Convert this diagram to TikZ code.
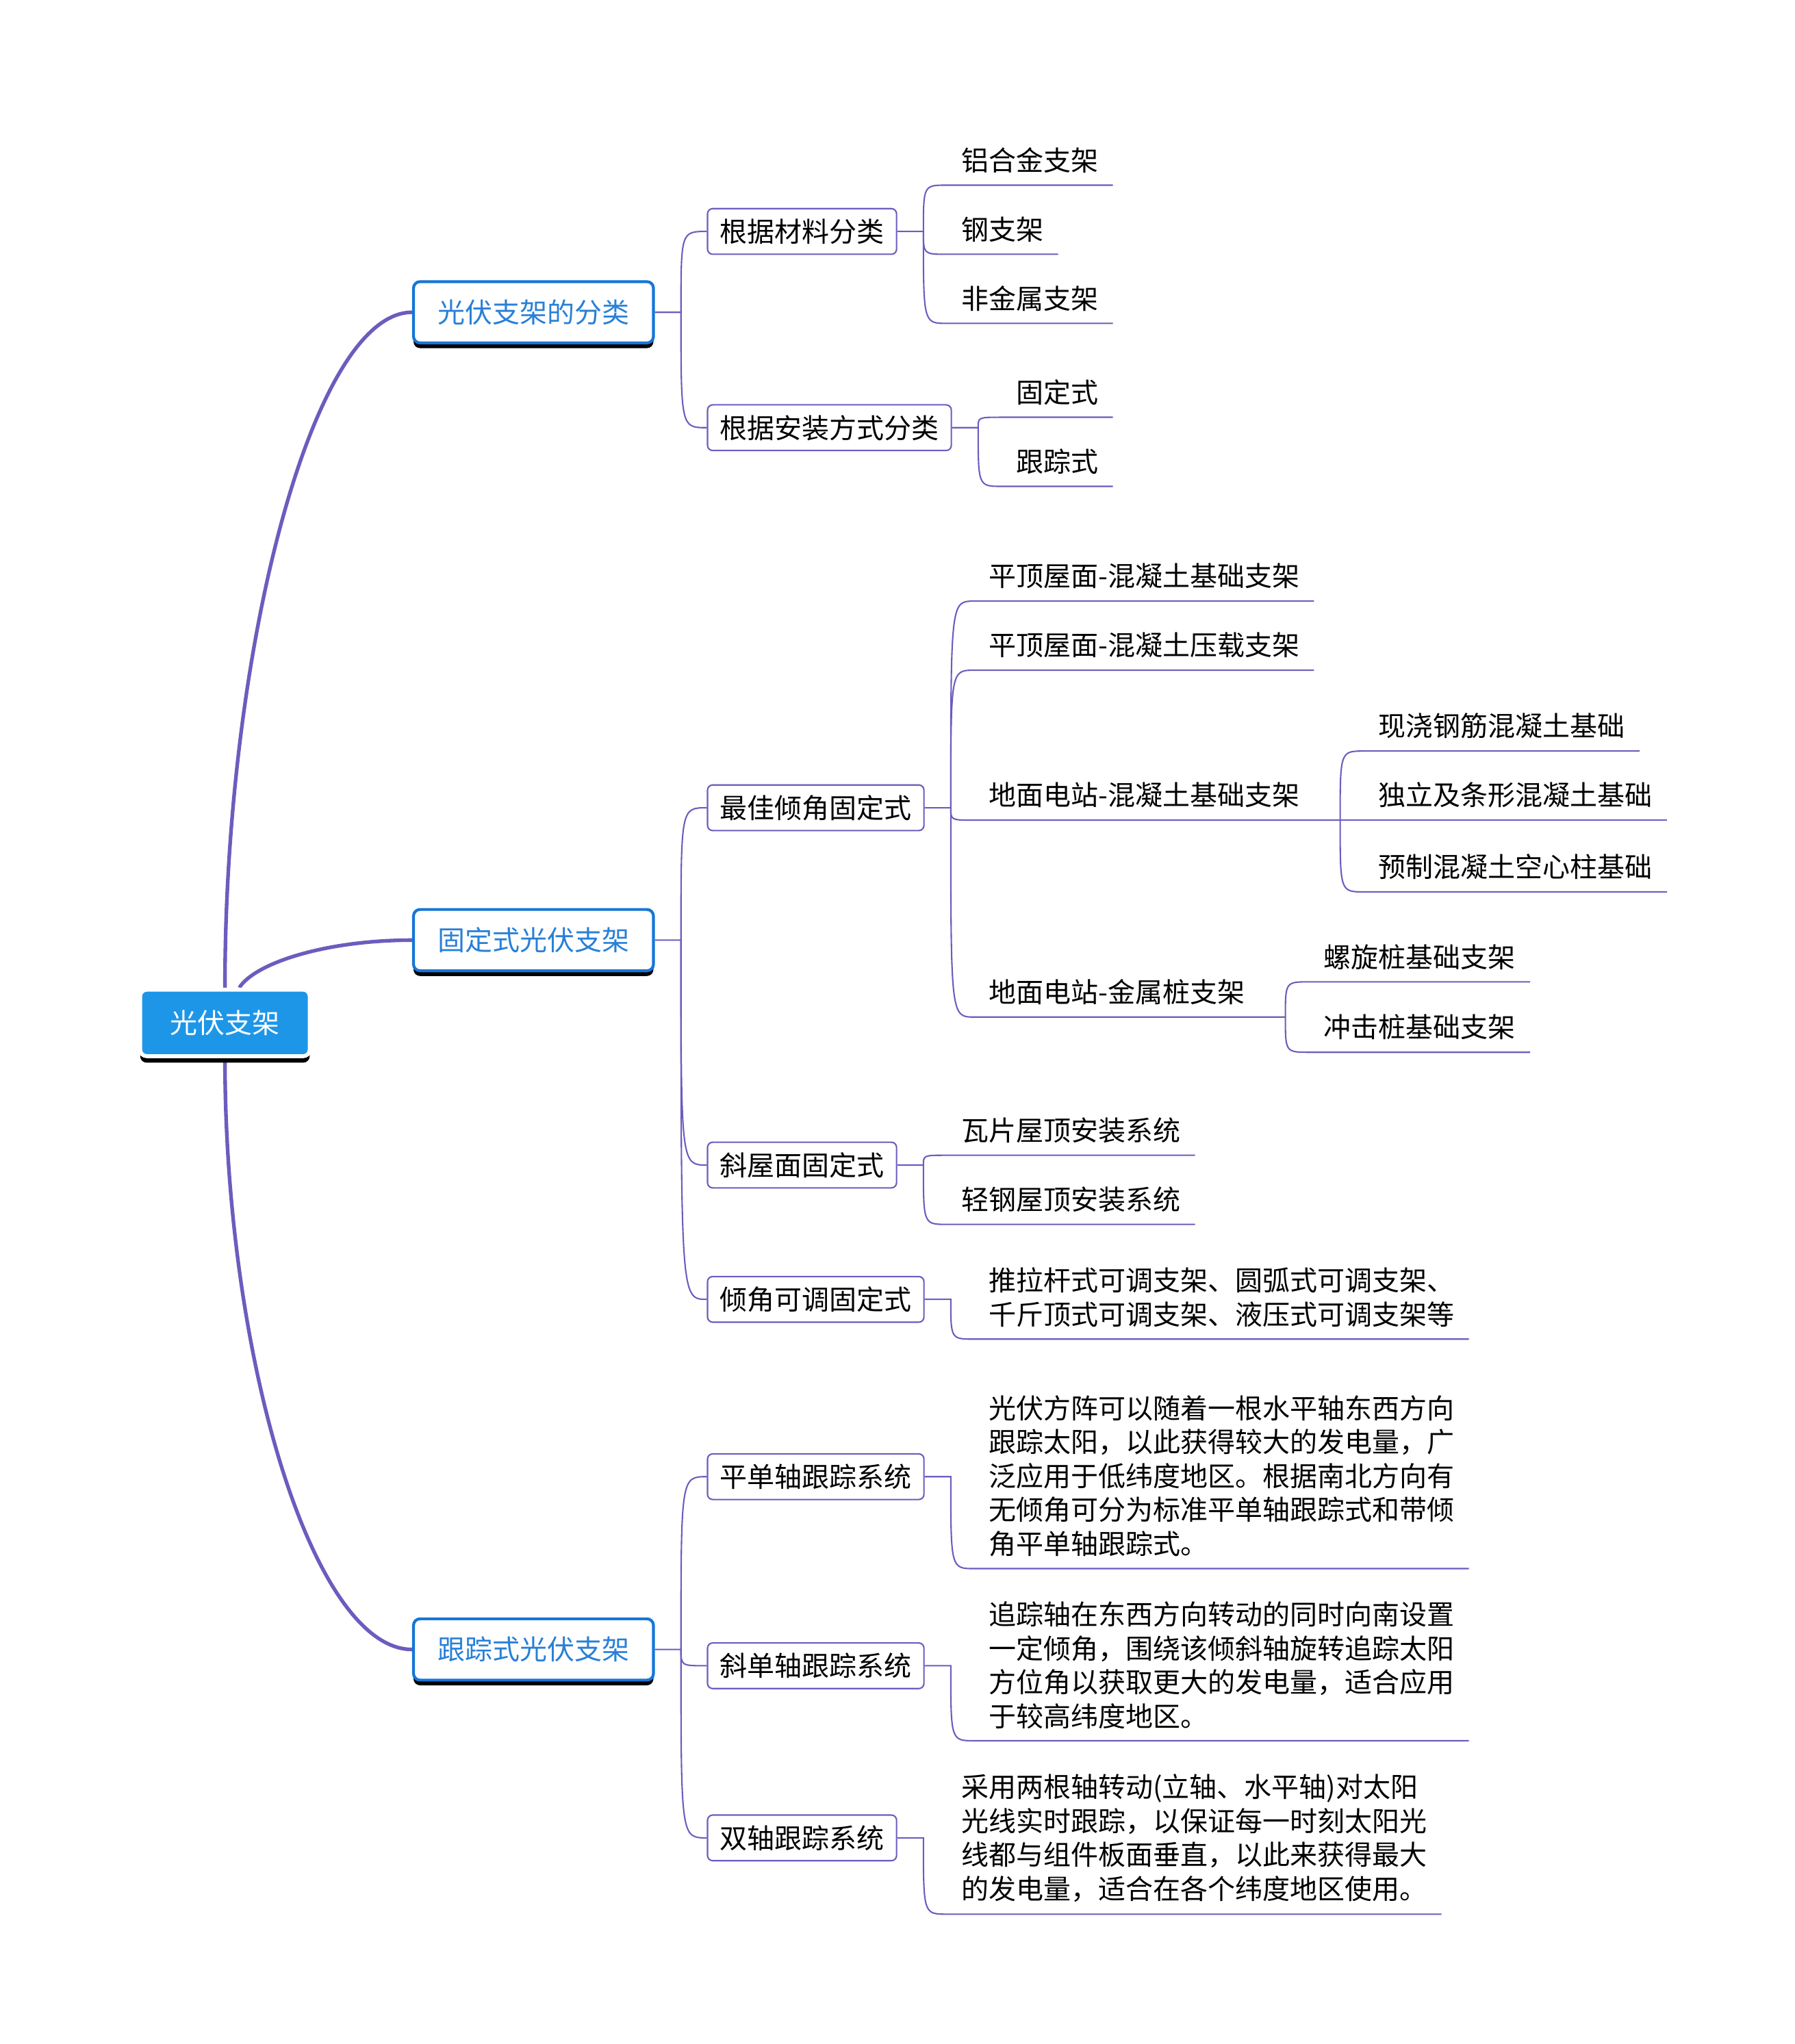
\documentclass[tikz,border=0pt]{standalone}
\usepackage{fontspec}
\setmainfont{Noto Sans CJK SC}
\usetikzlibrary{calc,backgrounds}
\definecolor{conn}{RGB}{108,92,190}
\definecolor{lvlone}{RGB}{22,118,214}
\definecolor{lvlonetext}{RGB}{40,128,215}
\definecolor{rootfill}{RGB}{30,150,232}
\begin{document}
\begin{tikzpicture}[x=1pt,y=-1pt,
  txt/.style={font=\fontsize{21pt}{26pt}\selectfont},
  conn/.style={draw=conn, line width=1.1pt},
  mainconn/.style={draw=conn, line width=2.8pt},
  rootbox/.style={txt, rectangle, rounded corners=5pt, fill=rootfill, draw=white, line width=3pt,
    text=white, minimum width=130pt, minimum height=51pt, text height=18pt, text depth=2pt,
    preaction={fill=black, transform canvas={yshift=-5pt}}},
  onebox/.style={txt, rectangle, rounded corners=5pt, fill=white, draw=lvlone, line width=2.2pt,
    text=lvlonetext, minimum width=184pt, minimum height=47pt, text height=18pt, text depth=2pt,
    anchor=west, preaction={fill=black, transform canvas={yshift=-4pt}}},
  twobox/.style={txt, rectangle, rounded corners=4pt, fill=white, draw=conn, line width=1.1pt,
    minimum height=35pt, inner xsep=9.5pt, text height=18pt, text depth=2pt, anchor=west},
  leaf/.style={txt, inner xsep=11pt, inner ysep=9pt, text height=18pt, text depth=2pt, anchor=south west},
  multi/.style={txt, inner xsep=11pt, inner ysep=9pt, align=left, anchor=south west},
]
\useasboundingbox (0,0) rectangle (1376,1567.6);

% root and first level
\node[rootbox] (root) at (172.5,784.5) {光伏支架};
\node[onebox] (c1) at (316,239.5) {光伏支架的分类};
\node[onebox] (c2) at (316,721) {固定式光伏支架};
\node[onebox] (c3) at (316,1265) {跟踪式光伏支架};

% second level
\node[twobox] (b11) at (542,177.5) {根据材料分类};
\node[twobox] (b12) at (542,328) {根据安装方式分类};
\node[twobox] (b21) at (542,619.5) {最佳倾角固定式};
\node[twobox] (b22) at (542,893.5) {斜屋面固定式};
\node[twobox] (b23) at (542,996.5) {倾角可调固定式};
\node[twobox] (b31) at (542,1132.5) {平单轴跟踪系统};
\node[twobox] (b32) at (542,1277.5) {斜单轴跟踪系统};
\node[twobox] (b33) at (542,1409.5) {双轴跟踪系统};

% leaves
\node[leaf] (l111) at (726,142) {铝合金支架};
\node[leaf] (l112) at (726,195) {钢支架};
\node[leaf] (l113) at (726,248) {非金属支架};
\node[leaf] (l121) at (768,320) {固定式};
\node[leaf] (l122) at (768,373) {跟踪式};
\node[leaf] (l211) at (747,461) {平顶屋面-混凝土基础支架};
\node[leaf] (l212) at (747,514) {平顶屋面-混凝土压载支架};
\node[leaf] (l213) at (747,629) {地面电站-混凝土基础支架};
\node[leaf] (l2131) at (1046,576) {现浇钢筋混凝土基础};
\node[leaf] (l2132) at (1046,629) {独立及条形混凝土基础};
\node[leaf] (l2133) at (1046,684) {预制混凝土空心柱基础};
\node[leaf] (l214) at (747,780) {地面电站-金属桩支架};
\node[leaf] (l2141) at (1004,753) {螺旋桩基础支架};
\node[leaf] (l2142) at (1004,807) {冲击桩基础支架};
\node[leaf] (l221) at (726,886) {瓦片屋顶安装系统};
\node[leaf] (l222) at (726,939) {轻钢屋顶安装系统};
\node[multi] (l231) at (747,1027) {推拉杆式可调支架、圆弧式可调支架、\\千斤顶式可调支架、液压式可调支架等};
\node[multi] (l311) at (747,1203) {光伏方阵可以随着一根水平轴东西方向\\跟踪太阳，以此获得较大的发电量，广\\泛应用于低纬度地区。根据南北方向有\\无倾角可分为标准平单轴跟踪式和带倾\\角平单轴跟踪式。};
\node[multi] (l321) at (747,1335) {追踪轴在东西方向转动的同时向南设置\\一定倾角，围绕该倾斜轴旋转追踪太阳\\方位角以获取更大的发电量，适合应用\\于较高纬度地区。};
\node[multi] (l331) at (726,1468) {采用两根轴转动(立轴、水平轴)对太阳\\光线实时跟踪，以保证每一时刻太阳光\\线都与组件板面垂直，以此来获得最大\\的发电量，适合在各个纬度地区使用。};

% forks
\coordinate (f1) at ($(c1.east)+(20,0)$);
\coordinate (f2) at ($(c2.east)+(20,0)$);
\coordinate (f3) at ($(c3.east)+(20,0)$);
\coordinate (f11) at ($(b11.east)+(20,0)$);
\coordinate (f12) at ($(b12.east)+(20,0)$);
\coordinate (f21) at ($(b21.east)+(20,0)$);
\coordinate (f22) at ($(b22.east)+(20,0)$);
\coordinate (f23) at ($(b23.east)+(20,0)$);
\coordinate (f31) at ($(b31.east)+(20,0)$);
\coordinate (f32) at ($(b32.east)+(20,0)$);
\coordinate (f33) at ($(b33.east)+(20,0)$);
\coordinate (f213) at ($(l213.south east)+(20,0)$);
\coordinate (f214) at ($(l214.south east)+(20,0)$);

\begin{pgfonlayer}{background}
% root connectors
\draw[mainconn] (root.north) .. controls ($(root.north)+(0,-260)$) and ($(c1.west)+(-76,0)$) .. (c1.west);
\draw[mainconn] ($(root.north)+(11,0)$) .. controls ($(root.north)+(23,-19)$) and ($(c2.west)+(-66,0)$) .. (c2.west);
\draw[mainconn] (root.south) .. controls ($(root.south)+(0,230)$) and ($(c3.west)+(-76,0)$) .. (c3.west);

% first level to second level
\draw[conn] (c1.east) -- (f1) .. controls (f1 |- b11.west) .. (b11.west);
\draw[conn] (f1) .. controls (f1 |- b12.west) .. (b12.west);
\draw[conn] (c2.east) -- (f2) .. controls (f2 |- b21.west) .. (b21.west);
\draw[conn] (f2) .. controls (f2 |- b22.west) .. (b22.west);
\draw[conn] (f2) .. controls (f2 |- b23.west) .. (b23.west);
\draw[conn] (c3.east) -- (f3) .. controls (f3 |- b31.west) .. (b31.west);
\draw[conn] (f3) .. controls (f3 |- b32.west) .. (b32.west);
\draw[conn] (f3) .. controls (f3 |- b33.west) .. (b33.west);

% second level to leaves
\draw[conn] (b11.east) -- (f11) .. controls (f11 |- l111.south west) .. (l111.south west) -- (l111.south east);
\draw[conn] (f11) .. controls (f11 |- l112.south west) .. (l112.south west) -- (l112.south east);
\draw[conn] (f11) .. controls (f11 |- l113.south west) .. (l113.south west) -- (l113.south east);
\draw[conn] (b12.east) -- (f12) .. controls (f12 |- l121.south west) .. (l121.south west) -- (l121.south east);
\draw[conn] (f12) .. controls (f12 |- l122.south west) .. (l122.south west) -- (l122.south east);
\draw[conn] (b21.east) -- (f21) .. controls (f21 |- l211.south west) .. (l211.south west) -- (l211.south east);
\draw[conn] (f21) .. controls (f21 |- l212.south west) .. (l212.south west) -- (l212.south east);
\draw[conn] (f21) .. controls (f21 |- l213.south west) .. (l213.south west) -- (f213);
\draw[conn] (f21) .. controls (f21 |- l214.south west) .. (l214.south west) -- (f214);
\draw[conn] (f213) .. controls (f213 |- l2131.south west) .. (l2131.south west) -- (l2131.south east);
\draw[conn] (f213) -- (l2132.south west) -- (l2132.south east);
\draw[conn] (f213) .. controls (f213 |- l2133.south west) .. (l2133.south west) -- (l2133.south east);
\draw[conn] (f214) .. controls (f214 |- l2141.south west) .. (l2141.south west) -- (l2141.south east);
\draw[conn] (f214) .. controls (f214 |- l2142.south west) .. (l2142.south west) -- (l2142.south east);
\draw[conn] (b22.east) -- (f22) .. controls (f22 |- l221.south west) .. (l221.south west) -- (l221.south east);
\draw[conn] (f22) .. controls (f22 |- l222.south west) .. (l222.south west) -- (l222.south east);
\draw[conn] (b23.east) -- (f23) .. controls (f23 |- l231.south west) .. (l231.south west) -- (l231.south east);
\draw[conn] (b31.east) -- (f31) .. controls (f31 |- l311.south west) .. (l311.south west) -- (l311.south east);
\draw[conn] (b32.east) -- (f32) .. controls (f32 |- l321.south west) .. (l321.south west) -- (l321.south east);
\draw[conn] (b33.east) -- (f33) .. controls (f33 |- l331.south west) .. (l331.south west) -- (l331.south east);
\end{pgfonlayer}
\end{tikzpicture}
\end{document}
